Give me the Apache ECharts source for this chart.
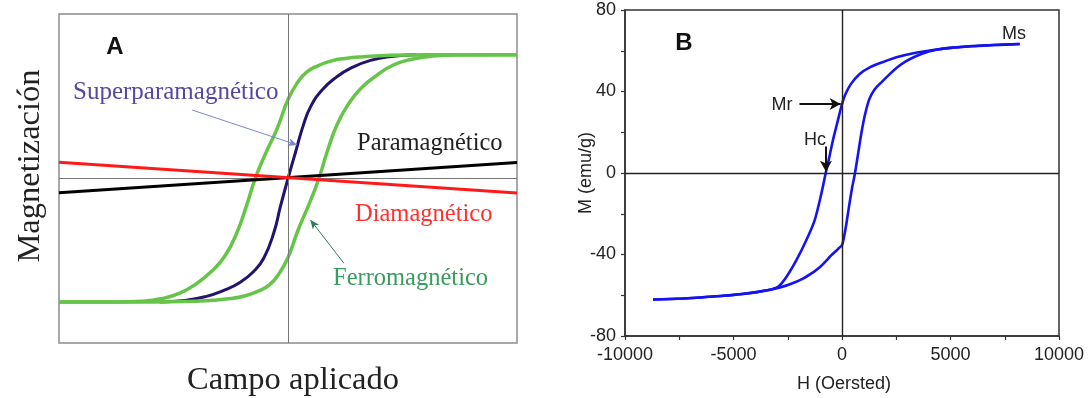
<!DOCTYPE html>
<html><head><meta charset="utf-8">
<script src="https://cdn.jsdelivr.net/npm/echarts@6/dist/echarts.min.js"></script>
<style>html,body{margin:0;padding:0;background:#fff}#c{width:1089px;height:398px}</style>
</head><body><div id="c"></div>
<script>
// ---------- Panel A (schematic, normalized field / magnetization) ----------
const paraA = [[-1, -0.087], [1, 0.097]];
const diaA = [[-1, 0.099], [1, -0.088]];
const superA = [[-0.56,-0.751],[-0.45,-0.742],[-0.36,-0.718],[-0.28,-0.68],[-0.21,-0.632],[-0.15,-0.565],[-0.106,-0.485],[-0.062,-0.33],[-0.033,-0.17],[0,0],[0.035,0.17],[0.066,0.32],[0.1,0.44],[0.15,0.54],[0.21,0.615],[0.28,0.675],[0.36,0.718],[0.45,0.742],[0.56,0.752]];
const ferroDownA = [[1,0.752],[0.6,0.752],[0.45,0.749],[0.33,0.74],[0.25,0.73],[0.19,0.715],[0.13,0.685],[0.08,0.645],[0.04,0.58],[0,0.48],[-0.047,0.305],[-0.1,0.145],[-0.143,0],[-0.18,-0.16],[-0.225,-0.335],[-0.275,-0.47],[-0.33,-0.56],[-0.4,-0.64],[-0.47,-0.695],[-0.55,-0.73],[-0.64,-0.746],[-0.75,-0.75],[-1,-0.75]];
const ferroUpA = [[-1,-0.75],[-0.6,-0.75],[-0.45,-0.748],[-0.33,-0.74],[-0.25,-0.73],[-0.19,-0.714],[-0.13,-0.685],[-0.08,-0.645],[-0.04,-0.58],[0,-0.48],[0.045,-0.31],[0.095,-0.145],[0.135,0],[0.171,0.163],[0.215,0.33],[0.265,0.455],[0.32,0.55],[0.39,0.63],[0.46,0.69],[0.54,0.725],[0.63,0.744],[0.75,0.751],[1,0.752]];
const arrowSuperA = [[-0.418, 0.416], [0.04, 0.204]];
const arrowFerroA = [[0.244, -0.515], [0.098, -0.252]];

// ---------- Panel B (measured hysteresis loop) ----------
const hystDownB = [[8189,63.3],[7000,62.8],[6000,62.3],[5000,61.4],[4200,60.4],[3400,59.0],[2600,57.0],[1900,54.5],[1300,52.0],[800,48.5],[400,43.5],[150,38.5],[0,33.8],[-184,26.1],[-415,16.2],[-645,4.8],[-751,0],[-949,-10],[-1258,-23.1],[-1641,-32.9],[-2101,-42.8],[-2562,-51.0],[-2949,-55.9],[-3500,-57.6],[-4253,-58.9],[-5000,-59.8],[-5788,-60.5],[-6500,-61.1],[-7327,-61.6],[-8710,-62.1]];
const hystUpB = [[-8710,-62.1],[-7327,-61.6],[-5788,-60.5],[-4800,-59.6],[-4000,-58.6],[-3300,-57.3],[-2900,-56.3],[-2400,-54.6],[-1797,-51.8],[-1300,-48.5],[-1028,-46.3],[-700,-42.8],[-488,-40.3],[-250,-38.0],[-106,-36.5],[0,-35.5],[100,-31],[200,-25],[330,-16],[470,-7],[600,0],[750,10],[900,20],[1046,28],[1250,36],[1500,41],[1816,44.5],[2200,48.5],[2507,51.5],[2900,54.5],[3429,57.4],[4000,59.6],[4500,60.7],[5000,61.4],[6000,62.2],[7000,62.8],[8189,63.3]];
const arrowMrB = [[-1960, 33.9], [-60, 33.9]];
const arrowHcB = [[-740, 13], [-740, 0.6]];
const xTicksB = { min: -10000, max: 10000, interval: 5000 };
const yTicksB = { min: -80, max: 80, interval: 40 };

const serif = '"Liberation Serif", "DejaVu Serif", serif';
const sans = '"Liberation Sans", Arial, sans-serif';

function arrowLine(pts, color, width, size) {
  return {
    silent: true, symbol: ['none', 'arrow'], symbolSize: size,
    label: { show: false },
    lineStyle: { color: color, width: width, type: 'solid' },
    data: [[{ coord: pts[0] }, { coord: pts[1] }]]
  };
}

const chart = echarts.init(document.getElementById('c'), null, { renderer: 'canvas' });
chart.setOption({
  animation: false,
  backgroundColor: '#fff',
  grid: [
    { left: 59, top: 14, width: 458, height: 329, show: true, borderColor: '#8c8c8c', borderWidth: 1.5, backgroundColor: 'transparent' },
    { left: 625, top: 10, width: 434, height: 326, show: true, borderColor: '#333', borderWidth: 1.5, backgroundColor: 'transparent' }
  ],
  xAxis: [
    { gridIndex: 0, type: 'value', min: -1, max: 1, axisLine: { show: false }, axisTick: { show: false }, axisLabel: { show: false }, splitLine: { show: false } },
    { gridIndex: 1, type: 'value', min: xTicksB.min, max: xTicksB.max, interval: xTicksB.interval,
      axisLine: { show: true, onZero: false, lineStyle: { color: '#333', width: 1.5 } },
      axisTick: { show: true, inside: false, length: 4, lineStyle: { color: '#333', width: 1.2 } },
      minorTick: { show: true, splitNumber: 2, length: 4, lineStyle: { color: '#333', width: 1.2 } },
      axisLabel: { show: true, fontFamily: sans, fontSize: 18, color: '#222', margin: 10, formatter: function (v) { return String(v); } },
      splitLine: { show: false } }
  ],
  yAxis: [
    { gridIndex: 0, type: 'value', min: -1, max: 1, axisLine: { show: false }, axisTick: { show: false }, axisLabel: { show: false }, splitLine: { show: false } },
    { gridIndex: 1, type: 'value', min: yTicksB.min, max: yTicksB.max, interval: yTicksB.interval,
      axisLine: { show: true, onZero: false, lineStyle: { color: '#333', width: 1.5 } },
      axisTick: { show: true, inside: false, length: 4, lineStyle: { color: '#333', width: 1.2 } },
      minorTick: { show: true, splitNumber: 2, length: 4, lineStyle: { color: '#333', width: 1.2 } },
      axisLabel: { show: true, fontFamily: sans, fontSize: 18, color: '#222', margin: 9, formatter: function (v) { return String(v); } },
      splitLine: { show: false } }
  ],
  series: [
    { type: 'line', xAxisIndex: 0, yAxisIndex: 0, data: superA, smooth: 0.5, showSymbol: false, lineStyle: { color: '#23126e', width: 3 }, z: 3,
      markLine: { silent: true, symbol: 'none', label: { show: false }, lineStyle: { color: '#777', width: 1, type: 'solid' }, data: [{ xAxis: 0 }, { yAxis: 0 }] } },
    { type: 'line', xAxisIndex: 0, yAxisIndex: 0, data: ferroDownA, smooth: 0.5, showSymbol: false, lineStyle: { color: '#66c449', width: 3.5 }, z: 4,
      markLine: arrowLine(arrowSuperA, '#7b86d6', 1, [6, 9]) },
    { type: 'line', xAxisIndex: 0, yAxisIndex: 0, data: ferroUpA, smooth: 0.5, showSymbol: false, lineStyle: { color: '#66c449', width: 3.5 }, z: 4,
      markLine: arrowLine(arrowFerroA, '#2e7d57', 1, [6, 9]) },
    { type: 'line', xAxisIndex: 0, yAxisIndex: 0, data: paraA, showSymbol: false, lineStyle: { color: '#000', width: 3 }, z: 5 },
    { type: 'line', xAxisIndex: 0, yAxisIndex: 0, data: diaA, showSymbol: false, lineStyle: { color: '#ff1a1a', width: 3 }, z: 5 },
    { type: 'line', xAxisIndex: 1, yAxisIndex: 1, data: hystDownB, smooth: 0.3, showSymbol: false, lineStyle: { color: '#1414f0', width: 2.6 }, z: 4,
      markLine: { silent: true, symbol: 'none', label: { show: false }, lineStyle: { color: '#222', width: 1.4, type: 'solid' }, data: [{ xAxis: 0 }, { yAxis: 0 }] } },
    { type: 'line', xAxisIndex: 1, yAxisIndex: 1, data: hystUpB, smooth: 0.3, showSymbol: false, lineStyle: { color: '#1414f0', width: 2.6 }, z: 4,
      markLine: arrowLine(arrowMrB, '#111', 2, [9, 11]) },
    { type: 'line', xAxisIndex: 1, yAxisIndex: 1, data: [], showSymbol: false, z: 5,
      markLine: arrowLine(arrowHcB, '#111', 2, [9, 11]) }
  ],
  graphic: [
    { type: 'text', x: 115, y: 47, style: { text: 'A', font: 'bold 24px ' + sans, fill: '#111', align: 'center', verticalAlign: 'middle' } },
    { type: 'text', x: 73, y: 92, style: { text: 'Superparamagnético', font: '25px ' + serif, fill: '#5646a6', align: 'left', verticalAlign: 'middle' } },
    { type: 'text', x: 357, y: 144, style: { text: 'Paramagnético', font: '24.5px ' + serif, fill: '#222', align: 'left', verticalAlign: 'middle' } },
    { type: 'text', x: 355, y: 215, style: { text: 'Diamagnético', font: '24.5px ' + serif, fill: '#ff3030', align: 'left', verticalAlign: 'middle' } },
    { type: 'text', x: 333, y: 279, style: { text: 'Ferromagnético', font: '24.5px ' + serif, fill: '#3a9c5c', align: 'left', verticalAlign: 'middle' } },
    { type: 'text', x: 293, y: 380, style: { text: 'Campo aplicado', font: '32.5px ' + serif, fill: '#222', align: 'center', verticalAlign: 'middle' } },
    { type: 'text', x: 30, y: 166, rotation: Math.PI / 2, style: { text: 'Magnetización', font: '32.5px ' + serif, fill: '#222', align: 'center', verticalAlign: 'middle' } },
    { type: 'text', x: 684, y: 43, style: { text: 'B', font: 'bold 24px ' + sans, fill: '#111', align: 'center', verticalAlign: 'middle' } },
    { type: 'text', x: 782, y: 105, style: { text: 'Mr', font: '18px ' + sans, fill: '#222', align: 'center', verticalAlign: 'middle' } },
    { type: 'text', x: 815, y: 140, style: { text: 'Hc', font: '18px ' + sans, fill: '#222', align: 'center', verticalAlign: 'middle' } },
    { type: 'text', x: 1014, y: 34, style: { text: 'Ms', font: '18px ' + sans, fill: '#222', align: 'center', verticalAlign: 'middle' } },
    { type: 'text', x: 844, y: 384, style: { text: 'H (Oersted)', font: '18px ' + sans, fill: '#222', align: 'center', verticalAlign: 'middle' } },
    { type: 'text', x: 586, y: 173, rotation: Math.PI / 2, style: { text: 'M (emu/g)', font: '18px ' + sans, fill: '#222', align: 'center', verticalAlign: 'middle' } }
  ]
});
</script>
</body></html>
